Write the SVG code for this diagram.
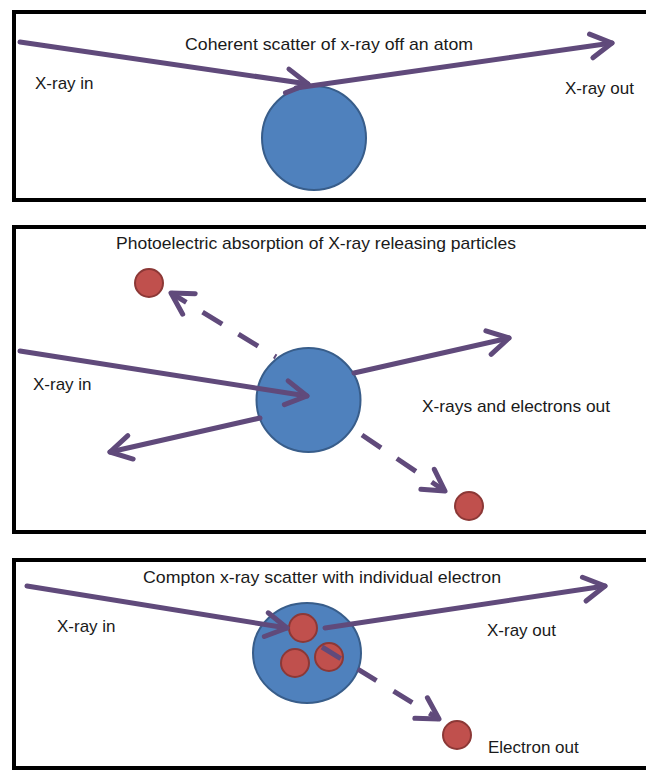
<svg xmlns="http://www.w3.org/2000/svg" width="646" height="772" viewBox="0 0 646 772">
<style>
.frame{fill:none;stroke:#000;stroke-width:4}
.atom{fill:#4f81bd;stroke:#385d8a;stroke-width:2}
.el{fill:#c0504d;stroke:#8c3836;stroke-width:2}
.ray{fill:none;stroke:#604a7b;stroke-width:5;stroke-linecap:round;marker-end:url(#ah)}
.dash{stroke-dasharray:23 19;stroke-linecap:butt}
.lbl{font-family:"Liberation Sans",Arial,sans-serif;font-size:17px;fill:#1a1a1a}
</style>
<defs>
<marker id="ah" markerUnits="userSpaceOnUse" viewBox="-30 -20 40 40" markerWidth="40" markerHeight="40" refX="0" refY="0" orient="auto" overflow="visible">
<path d="M-21,-12 L0,0 L-21,12" fill="none" stroke="#604a7b" stroke-width="5" stroke-linecap="round" stroke-linejoin="round"/>
</marker>
</defs>
<rect width="646" height="772" fill="#fff"/>
<g id="panel1">
<rect class="frame" x="14" y="12" width="660" height="188"/>
<g id="atom1"><ellipse class="atom" cx="314" cy="138" rx="52" ry="52"/></g>
<g id="title1"><text class="lbl" x="185" y="50" textLength="288" lengthAdjust="spacingAndGlyphs">Coherent scatter of x-ray  off an atom</text></g>
<g id="in1"><text class="lbl" x="35" y="89">X-ray in</text></g>
<g id="out1"><text class="lbl" x="565" y="94">X-ray out</text></g>
</g>
<g id="panel2">
<rect class="frame" x="14" y="227" width="660" height="305"/>
<g id="atom2"><ellipse class="atom" cx="308.5" cy="400" rx="52" ry="52"/></g>
<g id="e2a"><circle class="el" cx="149" cy="283" r="14"/></g>
<g id="e2b"><circle class="el" cx="469" cy="506" r="14"/></g>
<g id="title2"><text class="lbl" x="116" y="249" textLength="400" lengthAdjust="spacingAndGlyphs">Photoelectric absorption of X-ray releasing particles</text></g>
<g id="in2"><text class="lbl" x="33" y="390">X-ray in</text></g>
<g id="out2"><text class="lbl" x="422" y="412" textLength="188" lengthAdjust="spacingAndGlyphs">X-rays and electrons out</text></g>
</g>
<g id="panel3">
<rect class="frame" x="14" y="560" width="660" height="208"/>
<g id="atom3"><ellipse class="atom" cx="307" cy="653" rx="54" ry="50"/></g>
<g id="e3a"><circle class="el" cx="303" cy="628" r="14"/></g>
<g id="e3b"><circle class="el" cx="295" cy="663" r="14"/></g>
<g id="e3c"><circle class="el" cx="329" cy="657" r="14"/></g>
<g id="e3d"><circle class="el" cx="457" cy="735" r="14"/></g>
<g id="title3"><text class="lbl" x="143" y="583" textLength="358" lengthAdjust="spacingAndGlyphs">Compton x-ray scatter with individual electron</text></g>
<g id="in3"><text class="lbl" x="57" y="632">X-ray in</text></g>
<g id="out3"><text class="lbl" x="487" y="636">X-ray out</text></g>
<g id="eout3"><text class="lbl" x="488" y="753">Electron out</text></g>
</g>
<g id="connectors">
<path class="ray" d="M20,42 L308,84"/>
<path class="ray" d="M296,88 L612,43"/>
<path class="ray" d="M20,351 L307,396"/>
<path class="ray" d="M354,373 L509,338"/>
<path class="ray" d="M260,418 L110,452"/>
<path class="ray dash" d="M276,357 L171,293" stroke-dashoffset="21"/>
<path class="ray dash" d="M362,435 L445,491"/>
<path class="ray" d="M27,586 L287,628"/>
<path class="ray" d="M325,628 L605,586"/>
<path class="ray dash" d="M322,647 L439,719" style="stroke-dasharray:22 20"/>
</g>
</svg>
